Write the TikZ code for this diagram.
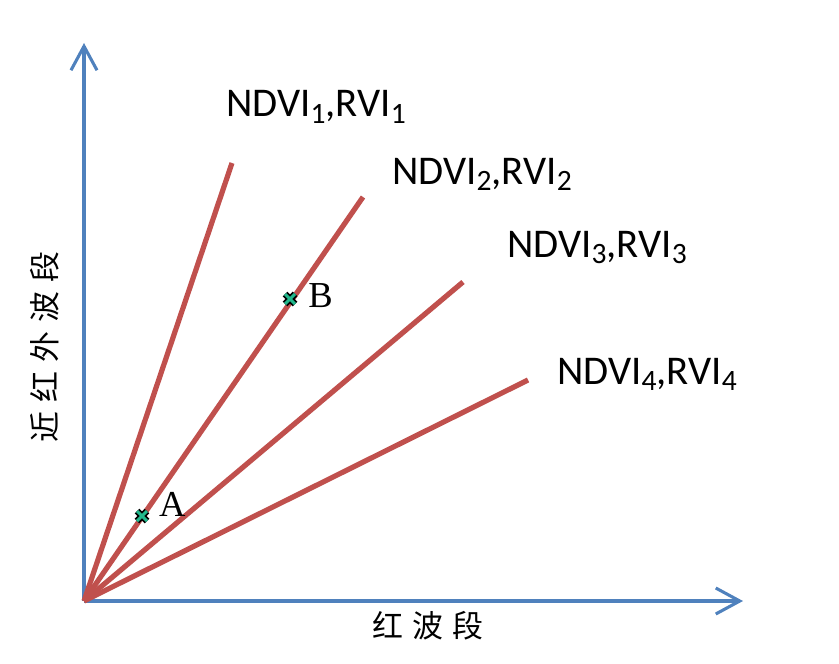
\documentclass[tikz,border=0pt]{standalone}
\usepackage{fontspec}
\setmainfont{Carlito}
\newfontfamily\serifab{Liberation Serif}
\newfontfamily\cjk{Noto Sans CJK SC}
\usepackage{xcolor}
\usetikzlibrary{arrows.meta, positioning}
\definecolor{axisblue}{RGB}{79,129,189}
\definecolor{rayred}{RGB}{192,80,77}
\definecolor{markgreen}{RGB}{34,184,140}
\tikzstyle{axis} = [draw=axisblue, line width=2.2pt, -{Straight Barb[length=0.6cm, width=0.65cm]}]
\tikzstyle{ray} = [draw=rayred, line width=3.7pt]
\tikzstyle{vilabel} = [anchor=base west, inner sep=0pt, font=\fontsize{29}{33}\selectfont]
\tikzstyle{ptlabel} = [anchor=base west, inner sep=0pt, font=\serifab\fontsize{26}{30}\selectfont]
\tikzstyle{bandlabel} = [inner sep=0pt, font=\cjk\fontsize{22}{22}\selectfont]
\tikzstyle{markout} = [draw=black, line width=4.6pt]
\tikzstyle{markin} = [draw=markgreen, line width=2.2pt]
\newcommand{\ptmark}[1]{%
  \draw[markout, shift={(#1)}] (-5,-5) -- (5,5) (-5,5) -- (5,-5);
  \draw[markin, shift={(#1)}] (-5,-5) -- (5,5) (-5,5) -- (5,-5);}
\newcommand{\visub}[1]{\raisebox{-4.3pt}{\fontsize{21}{21}\selectfont #1}}

\begin{document}
\begin{tikzpicture}[x=0.025cm, y=-0.025cm]
    \useasboundingbox (0,0) rectangle (839,663);

    % Axes
    \coordinate (O) at (84,601);
    \coordinate (xend) at (743,601);
    \coordinate (yend) at (84,43);
    \draw[axis] (O) -- (xend);
    \draw[axis] (O) -- (yend);
    \node[bandlabel] (xlab) at (428,626) {红\hspace{0.3em}波\hspace{0.3em}段};
    \node[bandlabel, rotate=90] (ylab) at (45,347) {近\hspace{0.3em}红\hspace{0.3em}外\hspace{0.3em}波\hspace{0.3em}段};

    % Iso-index lines
    \coordinate (e1) at (232,163);
    \coordinate (e2) at (363,197);
    \coordinate (e3) at (463,282);
    \coordinate (e4) at (528,380);
    \foreach \i in {1,...,4}
        \draw[ray] (O) -- (e\i);

    % Labels
    \node[vilabel] (vi1) at (226,117) {NDVI\visub{1},RVI\visub{1}};
    \node[vilabel] (vi2) at (392,184) {NDVI\visub{2},RVI\visub{2}};
    \node[vilabel] (vi3) at (507,257) {NDVI\visub{3},RVI\visub{3}};
    \node[vilabel] (vi4) at (557,384) {NDVI\visub{4},RVI\visub{4}};

    % Points A and B
    \coordinate (ptA) at (142,516);
    \coordinate (ptB) at (290,299);
    \ptmark{ptA}
    \ptmark{ptB}
    \node[ptlabel, right=0.42cm of ptA, anchor=base west] (labA) {A};
    \node[ptlabel, right=0.45cm of ptB, anchor=base west, yshift=-0.22cm] (labB) {B};

\end{tikzpicture}
\end{document}
